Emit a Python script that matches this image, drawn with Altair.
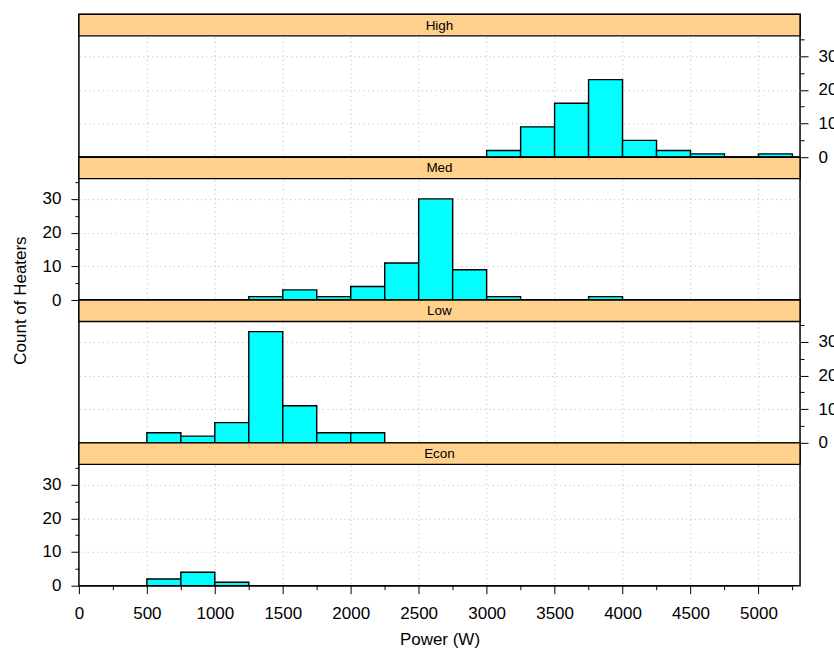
import altair as alt
import pandas as pd

# ---- data ----
bin_starts = [0, 250, 500, 750, 1000, 1250, 1500, 1750, 2000, 2250, 2500,
              2750, 3000, 3250, 3500, 3750, 4000, 4250, 4500, 4750, 5000]
bin_ends = [s + 250 for s in bin_starts]
panels = ["High", "Med", "Low", "Econ"]
high = [0, 0, 0, 0, 0, 0, 0, 0, 0, 0, 0, 0, 2, 9, 16, 23, 5, 2, 1, 0, 1]
med = [0, 0, 0, 0, 0, 1, 3, 1, 4, 11, 30, 9, 1, 0, 0, 1, 0, 0, 0, 0, 0]
low = [0, 0, 3, 2, 6, 33, 11, 3, 3, 0, 0, 0, 0, 0, 0, 0, 0, 0, 0, 0, 0]
econ = [0, 0, 2, 4, 1, 0, 0, 0, 0, 0, 0, 0, 0, 0, 0, 0, 0, 0, 0, 0, 0]
counts = {"High": high, "Med": med, "Low": low, "Econ": econ}
x_ticks = list(range(0, 5251, 250))
x_grid = list(range(500, 5001, 500))
y_ticks = [0, 5, 10, 15, 20, 25, 30, 35]

# ---- layout ----
W = 722
PANEL_H = 143
STRIP_H = 21.5
XMAX = 5306
YPLOT = 36
YTOP = YPLOT * PANEL_H / (PANEL_H - STRIP_H)
FONT = "Liberation Sans"

x_scale = alt.Scale(domain=[0, XMAX], nice=False, zero=False)
y_scale = alt.Scale(domain=[0, YTOP], nice=False, zero=False)

y_tick_size = {"condition": {"test": "datum.value % 10 === 0", "value": 8}, "value": 4}
y_grid_op = {"condition": {"test": "datum.value % 10 === 0 && datum.value > 0", "value": 1}, "value": 0}
x_tick_size = {"condition": {"test": "datum.value % 500 === 0", "value": 8}, "value": 4}
x_grid_op = {"condition": {"test": "datum.value % 500 === 0 && datum.value > 0 && datum.value < 5250", "value": 1}, "value": 0}


def panel(name, orient, bottom, ytitle):
    df = pd.DataFrame({"start": bin_starts, "end": bin_ends,
                       "count": counts[name], "base": [0] * len(bin_starts)})
    if bottom:
        x_axis = alt.Axis(values=x_ticks, format="d",
                          labelExpr="datum.value % 500 === 0 ? datum.label : ''",
                          tickSize=x_tick_size, grid=True, gridOpacity=x_grid_op,
                          domain=False, labelOverlap=False, labelFlush=False,
                          labelPadding=12, title="Power (W)", titlePadding=10)
    else:
        x_axis = alt.Axis(values=x_grid, labels=False, ticks=False, domain=False,
                          grid=True, title=None)
    y_kwargs = dict(orient=orient, values=y_ticks, format="d",
                    labelExpr="datum.value % 10 === 0 ? datum.label : ''",
                    tickSize=y_tick_size, grid=True, gridOpacity=y_grid_op,
                    domain=False, labelOverlap=False, labelFlush=False,
                    labelPadding=10)
    if ytitle:
        y_kwargs.update(title=ytitle, titleY=143, titlePadding=13)
    else:
        y_kwargs.update(title=None)
    bars = alt.Chart(df).mark_rect(fill="#00FFFF", stroke="black", strokeWidth=1.4).encode(
        x=alt.X("start:Q", scale=x_scale, axis=x_axis),
        x2="end:Q",
        y=alt.Y("count:Q", scale=y_scale, axis=alt.Axis(**y_kwargs)),
        y2="base:Q",
    )
    sdf = pd.DataFrame({"panel": [name]})
    strip = alt.Chart(sdf).mark_rect(fill="#FFD18C", stroke="black", strokeWidth=1.4).encode(
        x=alt.value(0), x2=alt.value(W), y=alt.value(0), y2=alt.value(STRIP_H))
    label = alt.Chart(sdf).mark_text(font=FONT, fontSize=13.5, color="black",
                                     baseline="middle", align="center").encode(
        x=alt.value(W / 2), y=alt.value(STRIP_H / 2 + 0.5), text="panel:N")
    return alt.layer(bars, strip, label).properties(width=W, height=PANEL_H)


chart = alt.vconcat(
    panel("High", "right", False, None),
    panel("Med", "left", False, "Count of Heaters"),
    panel("Low", "right", False, None),
    panel("Econ", "left", True, None),
    spacing=0, bounds="flush",
).properties(
    padding={"left": 10, "top": 12, "right": -4, "bottom": 0}
).configure_view(
    stroke="black", strokeWidth=1.5
).configure_axis(
    labelFont=FONT, labelFontSize=17, labelColor="black",
    titleFont=FONT, titleFontSize=17, titleFontWeight="normal", titleColor="black",
    tickColor="black", tickWidth=1,
    gridColor="#b8b8b8", gridDash=[1, 3.5], gridWidth=1,
)

chart.save("out.html", embed_options={"renderer": "svg", "actions": False})
